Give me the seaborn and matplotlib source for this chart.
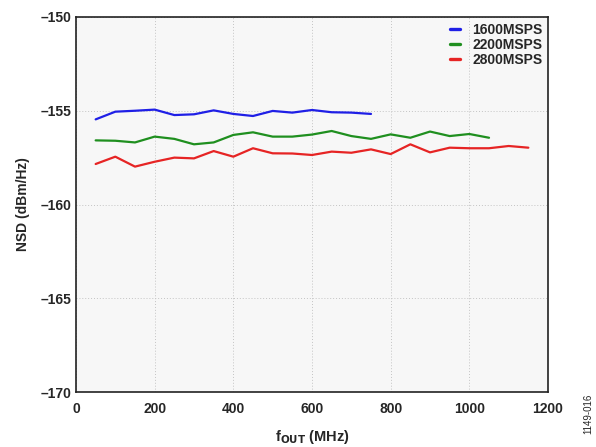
import numpy as np
import pandas as pd
import matplotlib
matplotlib.use('Agg')
import matplotlib.pyplot as plt
import seaborn as sns

# f_OUT in MHz, 50 MHz steps
freq_1600 = list(range(50, 751, 50))
freq_2200 = list(range(50, 1051, 50))
freq_2800 = list(range(50, 1151, 50))

nsd_1600 = [-155.46, -155.05, -155.00, -154.94, -155.23, -155.19, -154.98, -155.17,
            -155.28, -155.01, -155.10, -154.96, -155.08, -155.10, -155.17]
nsd_2200 = [-156.58, -156.60, -156.69, -156.38, -156.50, -156.79, -156.69, -156.29,
            -156.15, -156.38, -156.38, -156.27, -156.08, -156.35, -156.50, -156.26,
            -156.44, -156.11, -156.35, -156.24, -156.44]
nsd_2800 = [-157.84, -157.45, -157.98, -157.72, -157.50, -157.54, -157.15, -157.45,
            -157.00, -157.27, -157.28, -157.36, -157.18, -157.24, -157.06, -157.31,
            -156.79, -157.22, -156.97, -157.00, -157.00, -156.88, -156.97]

labels = ['1600MSPS', '2200MSPS', '2800MSPS']
colors = ['#1f1fe6', '#1f8f1f', '#e62424']

df = pd.concat([
    pd.DataFrame({'f': freq_1600, 'nsd': nsd_1600, 'rate': labels[0]}),
    pd.DataFrame({'f': freq_2200, 'nsd': nsd_2200, 'rate': labels[1]}),
    pd.DataFrame({'f': freq_2800, 'nsd': nsd_2800, 'rate': labels[2]}),
])

sns.set_style('white')
plt.rcParams['font.family'] = ['Liberation Sans', 'DejaVu Sans']
plt.rcParams['font.weight'] = 'bold'

fig = plt.figure(figsize=(5.96, 4.47), dpi=100)
ax = fig.add_axes([0.1275, 0.123, 0.792, 0.839])
ax.set_facecolor('#f7f7f7')

sns.lineplot(data=df, x='f', y='nsd', hue='rate', palette=colors, ax=ax, linewidth=1.6)

ax.set_xlim(0, 1200)
ax.set_ylim(-170, -150)
ax.set_xticks(range(0, 1201, 200))
ax.set_yticks(range(-170, -149, 5))
ax.set_yticklabels([f'\u2013{abs(v)}' for v in range(-170, -149, 5)])
ax.tick_params(axis='x', length=0, labelsize=10, pad=7)
ax.tick_params(axis='y', length=0, labelsize=10, pad=3)
for lab in ax.get_xticklabels() + ax.get_yticklabels():
    lab.set_fontweight('bold')
ax.grid(True, color='#c4c4c4', linestyle=(0, (1, 2)), linewidth=0.7)
for s in ax.spines.values():
    s.set_color('#222222')
    s.set_linewidth(1.2)

ax.set_xlabel('f$_{\\mathbf{OUT}}$ (MHz)', fontsize=10.5, fontweight='bold', labelpad=9)
ax.set_ylabel('NSD (dBm/Hz)', fontsize=10, fontweight='bold', labelpad=8)

leg = ax.legend(loc='upper right', frameon=False, handlelength=0.7, handletextpad=0.9,
                borderaxespad=0.0, labelspacing=0.1, prop={'weight': 'bold', 'size': 10})
for line in leg.get_lines():
    line.set_linewidth(2.4)

fig.text(0.995, 0.03, '1149-016', rotation=90, fontsize=7, fontweight='normal',
         ha='right', va='bottom')

fig.savefig('out.png', dpi=100)
